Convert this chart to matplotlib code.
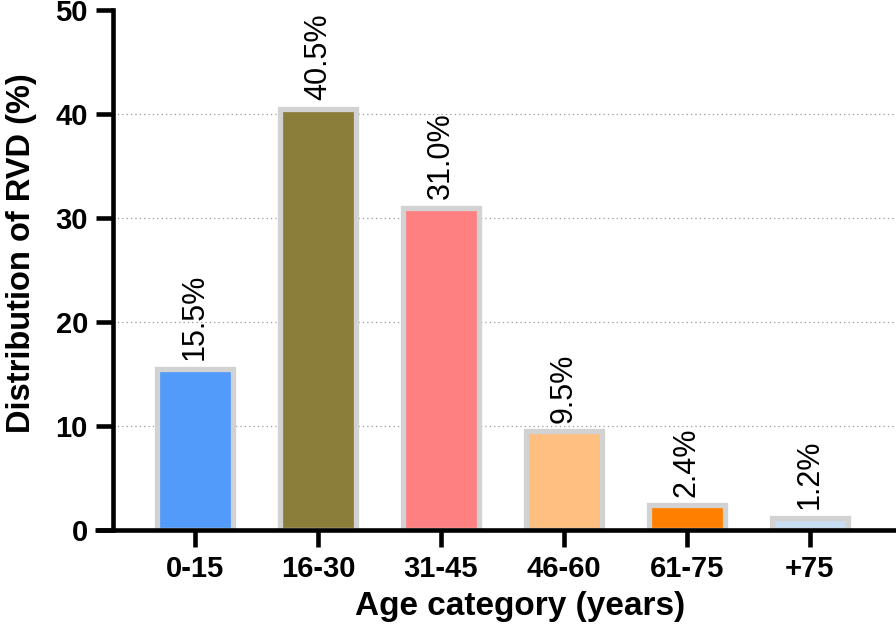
import numpy as np
import matplotlib
matplotlib.use('Agg')
import matplotlib.pyplot as plt

plt.rcParams['font.family'] = ['Liberation Sans', 'DejaVu Sans']

# data
categories = ['0-15', '16-30', '31-45', '46-60', '61-75', '+75']
values = [15.5, 40.5, 31.0, 9.5, 2.4, 1.2]
labels = ['15.5%', '40.5%', '31.0%', '9.5%', '2.4%', '1.2%']
colors = ['#529BFA', '#8B7D3A', '#FF8080', '#FFBF80', '#FF8000', '#C8DCF2']

W, H = 896, 632
fig = plt.figure(figsize=(W/100, H/100), dpi=100)
ax = fig.add_axes([95/W, (H-530)/H, 1 - 95/W, 520/H])

x = np.arange(len(categories))
x_left = -0.667
ax.set_xlim(-0.813, 5.70)
ax.set_ylim(0, 50)

# dotted grid lines, only right of the y axis
for g in [10, 20, 30, 40]:
    ax.hlines(g, x_left, 5.70, colors='#999999', linestyles=(0, (1, 2.5)),
              linewidth=0.9, zorder=1)

ax.bar(x, values, width=0.62, color=colors, edgecolor='#D2D2D2',
       linewidth=3.8, zorder=2)

for xi, v, lab in zip(x, values, labels):
    ax.text(xi, v + 0.8, lab, rotation=90, ha='center', va='bottom',
            fontsize=22, zorder=3)

ax.spines['top'].set_visible(False)
ax.spines['right'].set_visible(False)
ax.spines['left'].set_position(('data', x_left))
ax.spines['left'].set_linewidth(3.3)
ax.spines['bottom'].set_linewidth(3.3)
ax.spines['left'].set_bounds(0, 50)
ax.spines['bottom'].set_capstyle('butt')

ax.set_yticks([0, 10, 20, 30, 40, 50])
ax.set_xticks(x)
ax.set_xticklabels(categories)
ax.tick_params(axis='both', length=12, width=3.3, labelsize=21, pad=6)
for t in ax.get_xticklabels() + ax.get_yticklabels():
    t.set_fontweight('bold')

fig.text(22/W, 1 - 253/H, 'Distribution of RVD (%)', rotation=90,
         ha='center', va='center', fontsize=23.5, fontweight='bold')
fig.text(520/W, 1 - 607/H, 'Age category (years)', ha='center',
         va='center', fontsize=24, fontweight='bold')

fig.savefig('out.png', dpi=100)
